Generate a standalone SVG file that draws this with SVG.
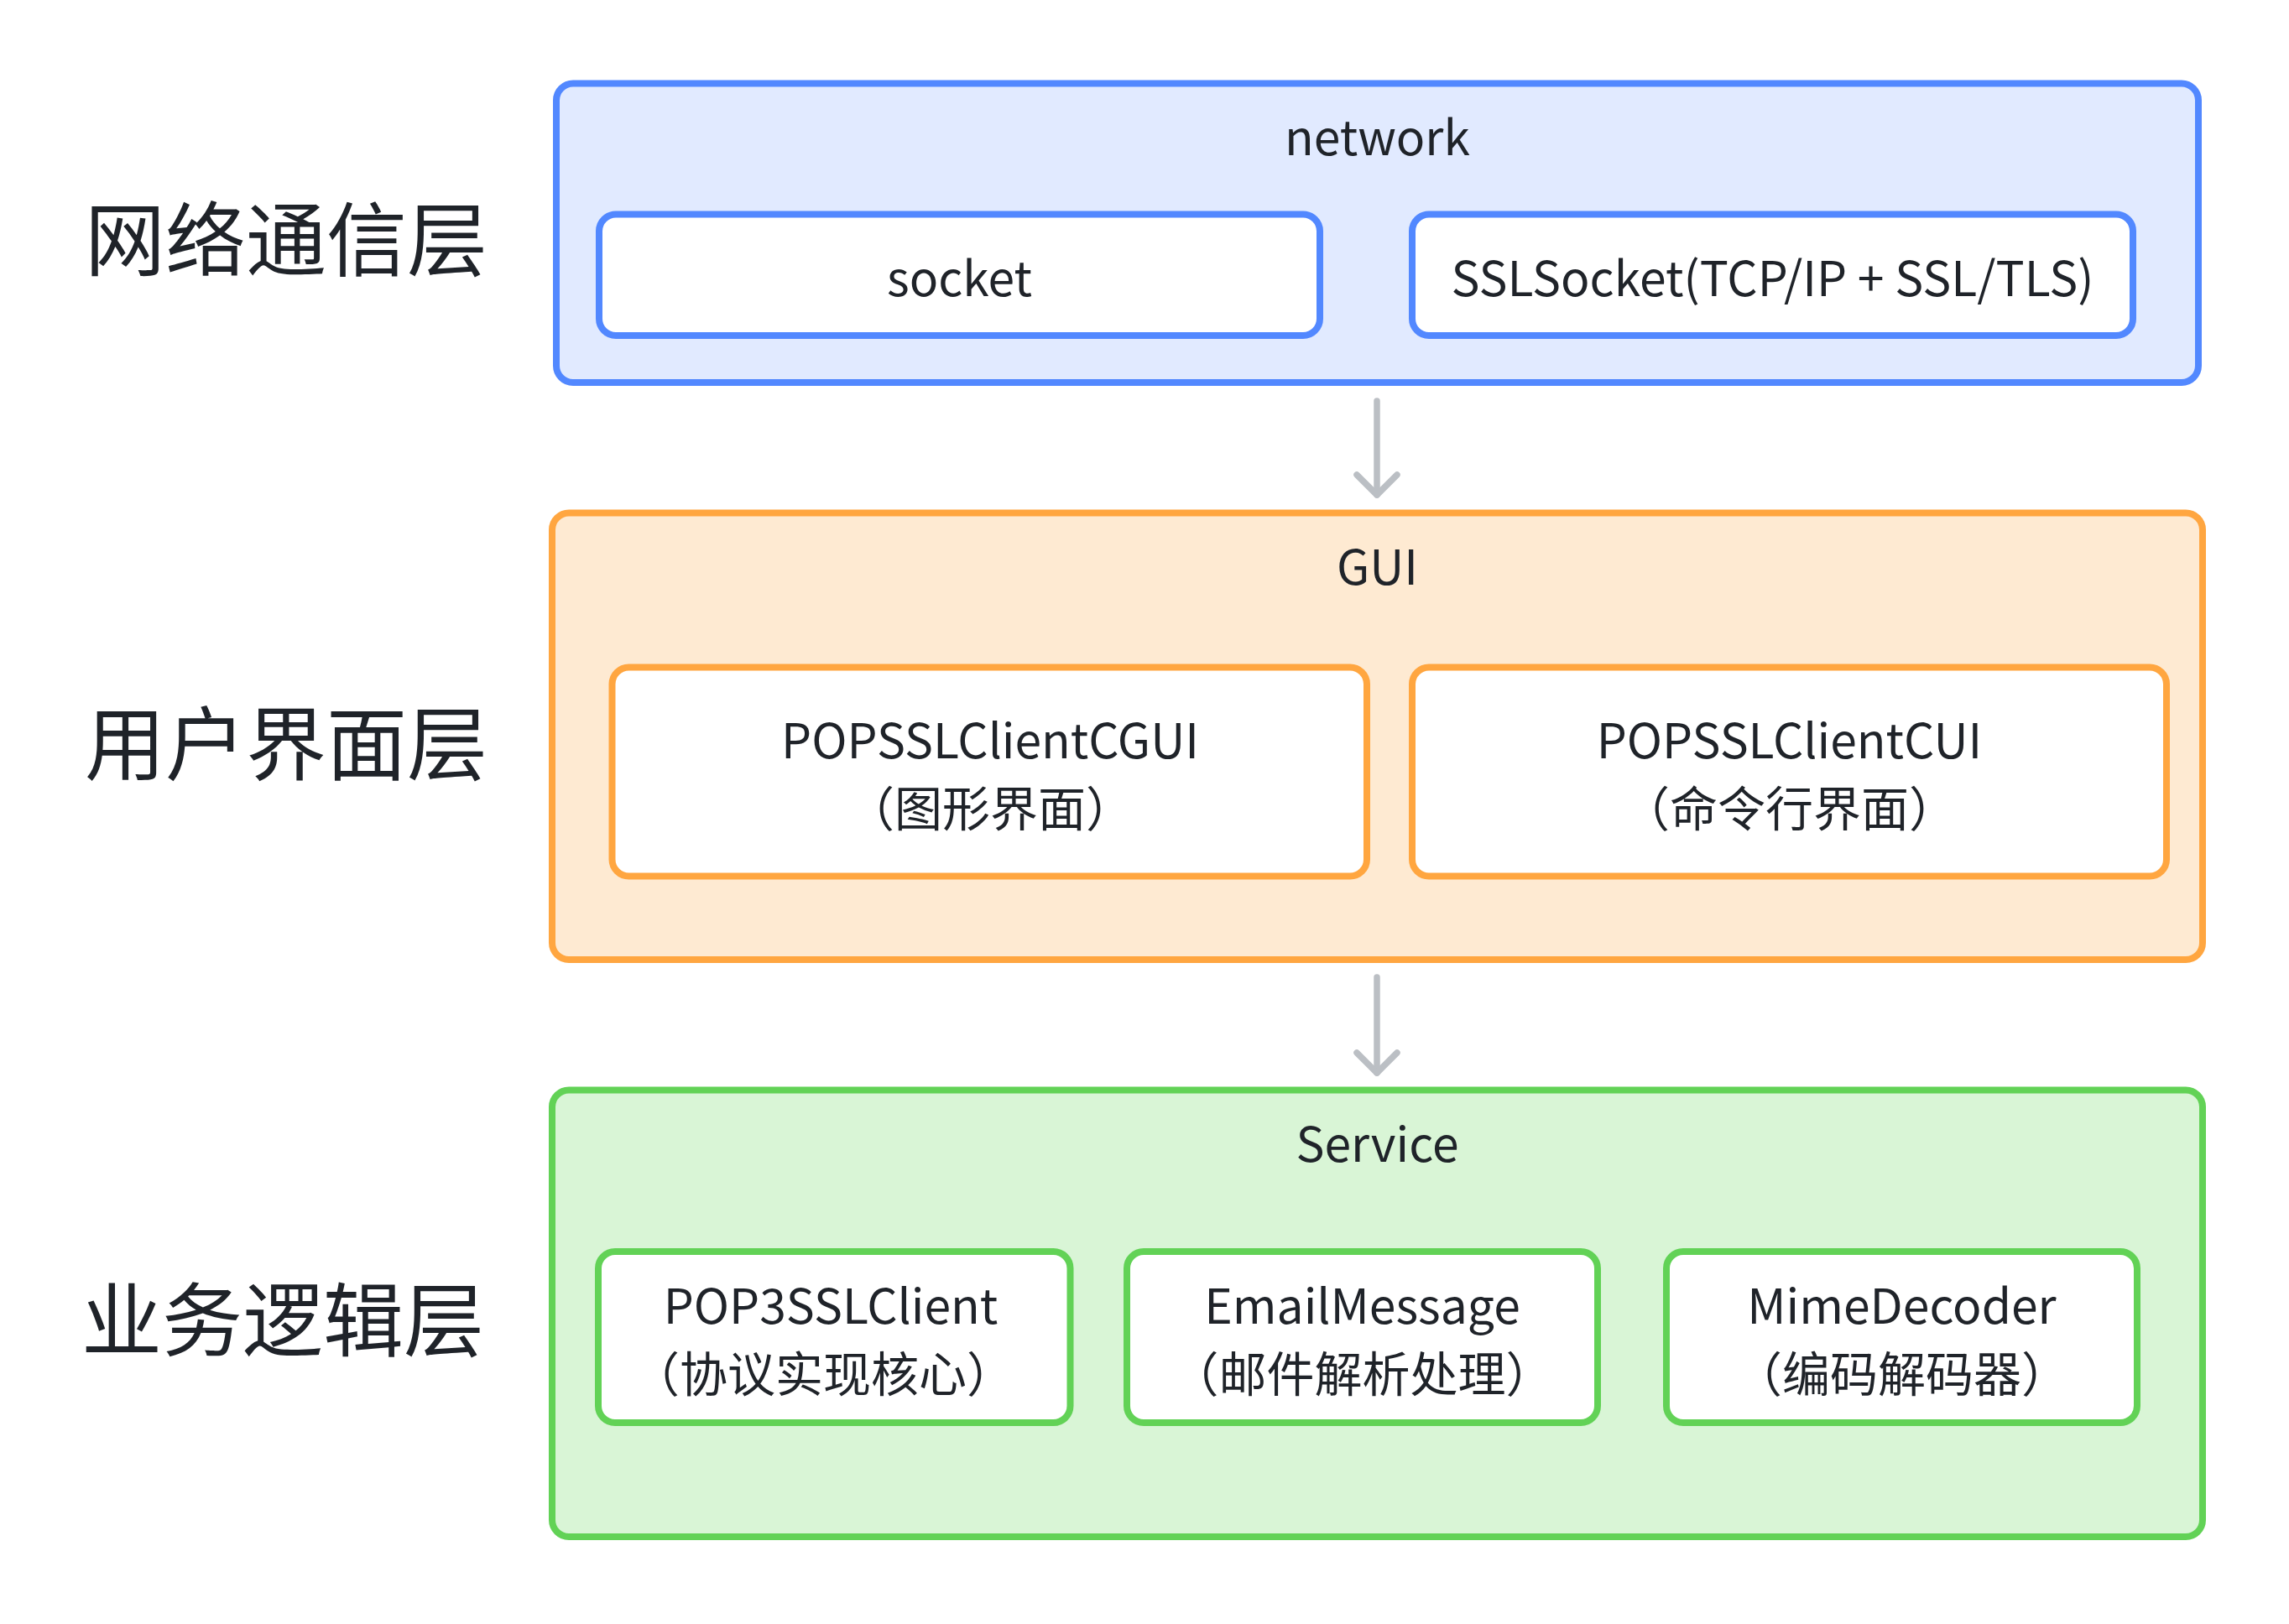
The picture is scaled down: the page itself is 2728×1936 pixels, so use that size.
<svg xmlns="http://www.w3.org/2000/svg" width="2728" height="1936" viewBox="0 0 2728 1936">
  <style>
    text { font-family: "Noto Sans CJK SC", "Noto Sans", sans-serif; fill: #1F2329; }
    .label { font-size: 96px; }
    .title { font-size: 57px; text-anchor: middle; }
    .node { font-size: 57px; text-anchor: middle; }
    .blue-group { fill: #E1EAFF; stroke: #5288FF; stroke-width: 8; }
    .blue-node { fill: #FFFFFF; stroke: #5288FF; stroke-width: 8; }
    .orange-group { fill: #FEEAD2; stroke: #FFA640; stroke-width: 8; }
    .orange-node { fill: #FFFFFF; stroke: #FFA640; stroke-width: 8; }
    .green-group { fill: #D9F5D6; stroke: #62D256; stroke-width: 8; }
    .green-node { fill: #FFFFFF; stroke: #62D256; stroke-width: 8; }
    .edge { fill: none; stroke: #BBBFC4; stroke-width: 7.5; stroke-linecap: round; stroke-linejoin: round; }
  </style>
  <defs>
    <marker id="arrow" markerUnits="userSpaceOnUse" markerWidth="60" markerHeight="60" viewBox="0 0 60 60" refX="50" refY="30" orient="auto">
      <path d="M26 6 L50 30 L26 54" fill="none" stroke="#BBBFC4" stroke-width="7.5" stroke-linecap="round" stroke-linejoin="round"/>
    </marker>
  </defs>
  <rect width="2728" height="1936" fill="#FFFFFF"/>

  <g id="layer-labels">
    <text class="label" x="101" y="321">网络通信层</text>
    <text class="label" x="101" y="922">用户界面层</text>
    <text class="label" x="97" y="1609">业务逻辑层</text>
  </g>

  <g id="network">
    <rect class="blue-group" x="663" y="99.5" width="1957" height="356.5" rx="20" ry="20"/>
    <text class="title" x="1641.5" y="185">network</text>
  </g>
  <g id="socket">
    <rect class="blue-node" x="714" y="255.5" width="859" height="144.5" rx="20" ry="20"/>
    <text class="node" x="1143.5" y="353">socket</text>
  </g>
  <g id="sslsocket">
    <rect class="blue-node" x="1683" y="255.5" width="859" height="144.5" rx="20" ry="20"/>
    <text class="node" x="2112.5" y="353">SSLSocket(TCP/IP + SSL/TLS)</text>
  </g>

  <g id="gui">
    <rect class="orange-group" x="658" y="611.5" width="1967" height="532.5" rx="20" ry="20"/>
    <text class="title" x="1641.5" y="697">GUI</text>
  </g>
  <g id="popsslclientcgui">
    <rect class="orange-node" x="729.5" y="795.5" width="899.5" height="249" rx="20" ry="20"/>
    <text class="node" x="1180" y="904">POPSSLClientCGUI</text>
    <text class="node" x="1180" y="985">（图形界面）</text>
  </g>
  <g id="popsslclientcui">
    <rect class="orange-node" x="1683" y="795.5" width="899" height="249" rx="20" ry="20"/>
    <text class="node" x="2132.5" y="904">POPSSLClientCUI</text>
    <text class="node" x="2132.5" y="985">（命令行界面）</text>
  </g>

  <g id="service">
    <rect class="green-group" x="658" y="1299.5" width="1967" height="532.5" rx="20" ry="20"/>
    <text class="title" x="1641.5" y="1385">Service</text>
  </g>
  <g id="pop3sslclient">
    <rect class="green-node" x="713" y="1492" width="562.5" height="204" rx="20" ry="20"/>
    <text class="node" x="990" y="1578">POP3SSLClient</text>
    <text class="node" x="981" y="1659">（协议实现核心）</text>
  </g>
  <g id="emailmessage">
    <rect class="green-node" x="1343" y="1492" width="561" height="204" rx="20" ry="20"/>
    <text class="node" x="1623.5" y="1578">EmailMessage</text>
    <text class="node" x="1623.5" y="1659">（邮件解析处理）</text>
  </g>
  <g id="mimedecoder">
    <rect class="green-node" x="1986" y="1492" width="561" height="204" rx="20" ry="20"/>
    <text class="node" x="2266.5" y="1578">MimeDecoder</text>
    <text class="node" x="2266.5" y="1659">（编码解码器）</text>
  </g>

  <g id="connectors">
    <line class="edge" x1="1641" y1="478" x2="1641" y2="590" marker-end="url(#arrow)"/>
    <line class="edge" x1="1641" y1="1165" x2="1641" y2="1279" marker-end="url(#arrow)"/>
  </g>
</svg>
